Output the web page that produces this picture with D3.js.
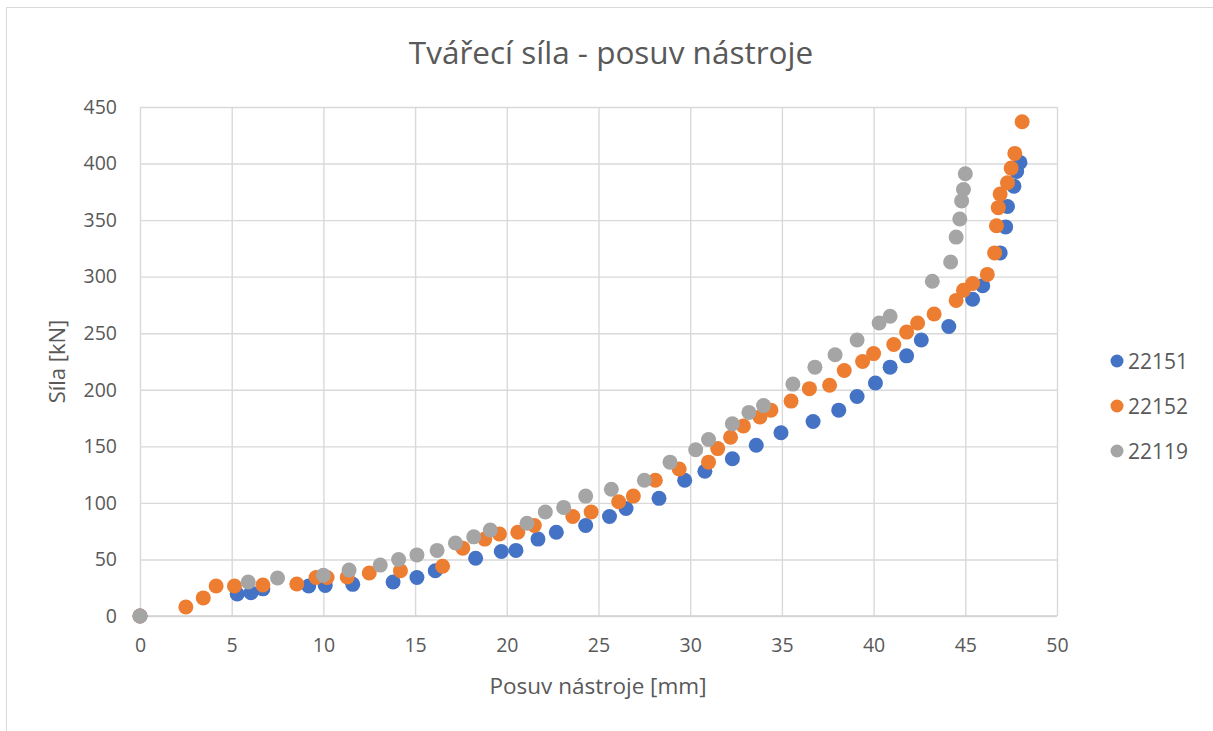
<!DOCTYPE html>
<html>
<head>
<meta charset="utf-8">
<script src="https://cdn.jsdelivr.net/npm/d3@7"></script>
<style>
  html, body { margin: 0; padding: 0; background: #fff; }
  svg { display: block; }
  text { font-family: "Open Sans", "Liberation Sans", sans-serif; fill: #595959; }
</style>
</head>
<body>
<svg id="chart" width="1213" height="731"></svg>
<script>
const chartTitle = "Tvářecí síla - posuv nástroje";
const xTitle = "Posuv nástroje [mm]";
const yTitle = "Síla [kN]";
const seriesNames = ["22151", "22152", "22119"];
const seriesColors = ["#4472C4", "#ED7D31", "#A5A5A5"];
const xTicks = [0, 5, 10, 15, 20, 25, 30, 35, 40, 45, 50];
const yTicks = [0, 50, 100, 150, 200, 250, 300, 350, 400, 450];

const s22151 = [[0,0],[5.3,19.5],[6.05,20.5],[6.7,24],[9.2,26.5],[10.1,27],[11.6,28],[13.8,30],[15.1,34],[16.1,40],[18.3,51],[19.7,57],[20.5,58],[21.7,68],[22.7,74],[24.3,80],[25.6,88],[26.5,95],[28.3,104],[29.7,120],[30.8,128],[32.3,139],[33.6,151],[34.95,162],[36.7,172],[38.1,182],[39.1,194],[40.1,206],[40.9,220],[41.8,230],[42.6,244],[44.1,256],[45.4,280],[45.95,292],[46.9,321],[47.2,344],[47.3,362],[47.65,380],[47.8,393],[47.98,401]];
const s22152 = [[0,0],[2.5,8],[3.45,16],[4.15,26.5],[5.15,26.5],[6.7,27.4],[8.55,28.3],[9.6,34],[10.2,34],[11.3,34.5],[12.5,38],[14.2,40],[16.5,44],[17.6,60],[18.8,68],[19.6,72.5],[20.6,74],[21.5,80],[23.6,88],[24.6,92],[26.1,101],[26.9,106],[28.1,120],[29.4,130],[31.0,136],[31.5,148],[32.2,158],[32.9,168],[33.8,176],[34.4,182],[35.5,190],[36.5,201],[37.6,204],[38.4,217],[39.4,225],[40.0,232],[41.1,240],[41.8,251],[42.4,259],[43.3,267],[44.5,279],[44.9,288],[45.4,294],[46.2,302],[46.6,321],[46.7,345],[46.8,361],[46.9,373],[47.3,383],[47.5,396],[47.7,409],[48.1,437]];
const s22119 = [[0,0],[5.9,30],[7.5,33.6],[10.0,36],[11.4,40.6],[13.1,45],[14.1,50],[15.1,54],[16.2,58],[17.2,64.5],[18.2,70],[19.1,76],[21.1,82],[22.1,92],[23.1,96],[24.3,106],[25.7,112],[27.5,120],[28.9,136],[30.3,147],[31.0,156],[32.3,170],[33.2,180],[34.0,186],[35.6,205],[36.8,220],[37.9,231],[39.1,244],[40.3,259],[40.9,265],[43.2,296],[44.2,313],[44.5,335],[44.7,351],[44.8,367],[44.9,377],[45.0,391]];
const allSeries = [s22151, s22152, s22119];

const svg = d3.select("#chart");
const plot = {left: 140, right: 1057, top: 107, bottom: 616};

// outer chart border
svg.append("rect").attr("x", 6.5).attr("y", 7.5).attr("width", 1300).attr("height", 900)
  .attr("fill", "#fff").attr("stroke", "#d9d9d9").attr("stroke-width", 1);

const x = d3.scaleLinear().domain([0, 50]).range([plot.left, plot.right]);
const y = d3.scaleLinear().domain([0, 450]).range([plot.bottom, plot.top]);

// gridlines
const gx = svg.append("g").attr("transform", `translate(0,${plot.bottom})`)
  .call(d3.axisBottom(x).tickValues(xTicks).tickSize(-(plot.bottom - plot.top)).tickFormat(""));
const gy = svg.append("g").attr("transform", `translate(${plot.left},0)`)
  .call(d3.axisLeft(y).tickValues(yTicks).tickSize(-(plot.right - plot.left)).tickFormat(""));
[gx, gy].forEach(g => {
  g.select(".domain").remove();
  g.selectAll(".tick line").attr("stroke", "#d9d9d9").attr("stroke-width", 1.4);
});

// tick labels
const lx = svg.append("g").attr("transform", `translate(0,${plot.bottom})`)
  .call(d3.axisBottom(x).tickValues(xTicks).tickSize(0).tickPadding(22));
lx.select(".domain").remove();
lx.selectAll("text").attr("font-size", 19.5).attr("fill", "#595959")
  .style("font-family", '"Open Sans", sans-serif');

const ly = svg.append("g").attr("transform", `translate(${plot.left},0)`)
  .call(d3.axisLeft(y).tickValues(yTicks).tickSize(0).tickPadding(23));
ly.select(".domain").remove();
ly.selectAll("text").attr("font-size", 19.5).attr("fill", "#595959")
  .style("font-family", '"Open Sans", sans-serif');

// axis line at y=0
svg.append("line").attr("x1", plot.left).attr("x2", plot.right)
  .attr("y1", y(0)).attr("y2", y(0)).attr("stroke", "#d0d0d0").attr("stroke-width", 1.4);

// points
allSeries.forEach((data, i) => {
  svg.append("g").selectAll("circle").data(data).join("circle")
    .attr("cx", d => x(d[0])).attr("cy", d => y(d[1])).attr("r", 7.5)
    .attr("fill", seriesColors[i]);
});

// title
svg.append("text").attr("x", 611).attr("y", 64).attr("text-anchor", "middle")
  .attr("font-size", 31.5).text(chartTitle);

// axis titles
svg.append("text").attr("x", 598).attr("y", 694).attr("text-anchor", "middle")
  .attr("font-size", 22.5).text(xTitle);
svg.append("text").attr("transform", `translate(65,${(plot.top + plot.bottom) / 2}) rotate(-90)`)
  .attr("text-anchor", "middle").attr("font-size", 22).text(yTitle);

// legend
const legend = svg.append("g");
seriesNames.forEach((name, i) => {
  const cy = 361 + i * 45;
  legend.append("circle").attr("cx", 1117).attr("cy", cy).attr("r", 6.5).attr("fill", seriesColors[i]);
  legend.append("text").attr("x", 1128).attr("y", cy + 7.5).attr("font-size", 21).text(name);
});
</script>
</body>
</html>
